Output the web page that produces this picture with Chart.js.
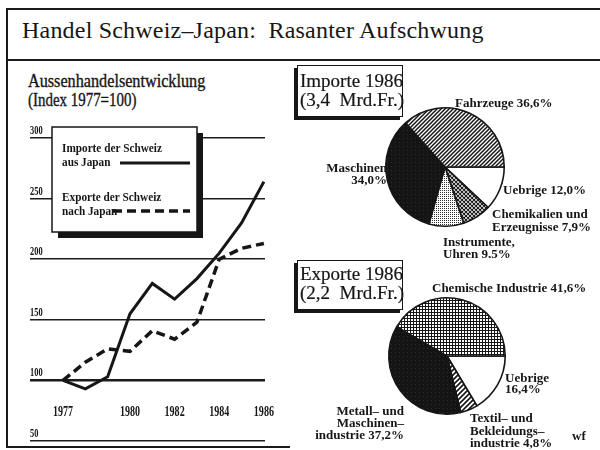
<!DOCTYPE html>
<html>
<head>
<meta charset="utf-8">
<script src="https://cdn.jsdelivr.net/npm/chart.js@4.4.1/dist/chart.umd.min.js"></script>
<style>
  html,body{margin:0;padding:0;background:#fff;}
  body{width:600px;height:450px;position:relative;overflow:hidden;font-family:"Liberation Serif",serif;color:#161616;}
  .abs{position:absolute;white-space:nowrap;}
  .line{position:absolute;background:#1a1a1a;}
  .head{font-size:18px;line-height:18px;transform-origin:0 0;-webkit-text-stroke:0.35px #161616;}
  .box{position:absolute;border:1.5px solid #161616;box-shadow:-3px 3px 0 #161616;background:#fff;box-sizing:border-box;}
  .boxtxt{position:absolute;left:2px;font-size:19px;line-height:19px;white-space:nowrap;transform-origin:0 0;-webkit-text-stroke:0.2px #161616;}
  canvas{position:absolute;}
</style>
</head>
<body>
<!-- frame -->
<div class="line" style="left:6px;top:8px;width:594px;height:2px;"></div>
<div class="line" style="left:6px;top:59px;width:594px;height:2px;"></div>
<div class="line" style="left:6px;top:8px;width:1.5px;height:440px;"></div>
<div class="line" style="left:6px;top:446px;width:284px;height:2px;"></div>

<div class="abs" id="title" style="left:22px;top:18px;font-size:24px;line-height:24px;letter-spacing:0.2px;">Handel Schweiz–Japan:&nbsp; Rasanter Aufschwung</div>

<div class="abs head" style="left:28px;top:72px;transform:scaleX(0.9);">Aussenhandelsentwicklung</div>
<div class="abs head" style="left:28px;top:91px;transform:scaleX(0.83);">(Index 1977=100)</div>

<canvas id="lineChart" width="290" height="330" style="left:0;top:120px;"></canvas>
<canvas id="pieImp" width="310" height="198" style="left:290px;top:60px;"></canvas>
<canvas id="pieExp" width="310" height="192" style="left:290px;top:258px;"></canvas>

<div class="box" style="left:297px;top:65px;width:106px;height:52px;">
  <div class="boxtxt" style="top:5px;">Importe 1986</div>
  <div class="boxtxt" style="top:24px;">(3,4&nbsp; Mrd.Fr.)</div>
</div>
<div class="box" style="left:297px;top:260px;width:106px;height:50px;">
  <div class="boxtxt" style="top:3px;">Exporte 1986</div>
  <div class="boxtxt" style="top:22px;">(2,2&nbsp; Mrd.Fr.)</div>
</div>

<div class="abs" style="left:572px;top:429px;font-size:13px;font-weight:bold;line-height:13px;">wf</div>

<script>
// ---------------- DATA ----------------
const years = [1977, 1978, 1979, 1980, 1981, 1982, 1983, 1984, 1985, 1986];
const importIndex = [100, 93, 103, 155, 180, 167, 184, 205, 230, 264];
const exportIndex = [100, 115, 126, 124, 141, 134, 148, 200, 209, 213];
const seriesNames = [["Importe der Schweiz", "aus Japan"], ["Exporte der Schweiz", "nach Japan"]];
const xTickYears = [1977, 1980, 1982, 1984, 1986];
const yTickValues = [300, 250, 200, 150, 100, 50];

// pie slices listed clockwise starting at 3 o'clock
const importCategories = ["Uebrige", ["Chemikalien und", "Erzeugnisse"], ["Instrumente,", "Uhren"], "Maschinen", "Fahrzeuge"];
const importShares = [12.0, 7.9, 9.5, 34.0, 36.6];
const exportCategories = ["Uebrige", ["Textil– und", "Bekleidungs–", "industrie"], ["Metall– und", "Maschinen–", "industrie"], "Chemische Industrie"];
const exportShares = [16.4, 4.8, 37.2, 41.6];

// ---------------- helpers ----------------
const INK = '#161616';
function drawScaled(ctx, text, x, y, font, sx, align) {
  ctx.save();
  ctx.font = font;
  ctx.fillStyle = INK;
  ctx.textAlign = align;
  ctx.textBaseline = 'alphabetic';
  ctx.translate(x, y);
  ctx.scale(sx, 1);
  ctx.fillText(text, 0, 0);
  ctx.restore();
}
function fmtPct(v) { return v.toFixed(1).replace('.', ',') + '%'; }

function makePattern(kind) {
  const c = document.createElement('canvas');
  const g = c.getContext('2d');
  let s = 4;
  if (kind === 'diag') {
    s = 4; c.width = c.height = s;
    g.fillStyle = '#fff'; g.fillRect(0, 0, s, s);
    g.strokeStyle = INK; g.lineWidth = 1.5;
    g.beginPath();
    g.moveTo(-1, s + 1); g.lineTo(s + 1, -1);
    g.moveTo(-1, 1); g.lineTo(1, -1);
    g.moveTo(s - 1, s + 1); g.lineTo(s + 1, s - 1);
    g.stroke();
  } else if (kind === 'diagWide') {
    s = 5; c.width = c.height = s;
    g.fillStyle = '#fff'; g.fillRect(0, 0, s, s);
    g.strokeStyle = INK; g.lineWidth = 1.6;
    g.beginPath();
    g.moveTo(-1, s + 1); g.lineTo(s + 1, -1);
    g.moveTo(-1, 1); g.lineTo(1, -1);
    g.moveTo(s - 1, s + 1); g.lineTo(s + 1, s - 1);
    g.stroke();
  } else if (kind === 'cross') {
    s = 4; c.width = c.height = s;
    g.fillStyle = '#fff'; g.fillRect(0, 0, s, s);
    g.strokeStyle = INK; g.lineWidth = 1.1;
    g.beginPath();
    g.moveTo(-1, s + 1); g.lineTo(s + 1, -1);
    g.moveTo(-1, -1); g.lineTo(s + 1, s + 1);
    g.moveTo(-1, 1); g.lineTo(1, -1);
    g.moveTo(s - 1, s + 1); g.lineTo(s + 1, s - 1);
    g.moveTo(s - 1, -1); g.lineTo(s + 1, 1);
    g.moveTo(-1, s - 1); g.lineTo(1, s + 1);
    g.stroke();
  } else if (kind === 'grid') {
    s = 3; c.width = c.height = s;
    g.fillStyle = '#fff'; g.fillRect(0, 0, s, s);
    g.fillStyle = INK;
    g.fillRect(0, 0, s, 1); g.fillRect(0, 0, 1, s);
  } else if (kind === 'dots') {
    s = 2; c.width = c.height = s;
    g.fillStyle = '#fff'; g.fillRect(0, 0, s, s);
    g.fillStyle = '#333';
    g.fillRect(0, 0, 1, 1);
  } else if (kind === 'black') {
    s = 4; c.width = c.height = s;
    g.fillStyle = '#141414'; g.fillRect(0, 0, s, s);
    g.fillStyle = '#2e2e2e'; g.fillRect(1, 2, 1, 1);
  }
  return g.createPattern(c, 'repeat');
}

// ---------------- line chart ----------------
const lineDecor = {
  id: 'lineDecor',
  afterDraw(chart) {
    const ctx = chart.ctx;
    const xs = chart.scales.x, ys = chart.scales.y, area = chart.chartArea;
    yTickValues.forEach(v => {
      drawScaled(ctx, String(v), area.left, ys.getPixelForValue(v) - 4, 'bold 12px "Liberation Serif"', 0.7, 'left');
    });
    xTickYears.forEach(yr => {
      drawScaled(ctx, String(yr), xs.getPixelForValue(yr), 296, 'bold 14px "Liberation Serif"', 0.72, 'center');
    });
    // legend box
    const bx = 52, by = 7, bw = 145, bh = 105;
    ctx.save();
    ctx.fillStyle = INK; ctx.fillRect(bx + 6, by + 6, bw, bh);
    ctx.fillStyle = '#fff'; ctx.fillRect(bx, by, bw, bh);
    ctx.strokeStyle = INK; ctx.lineWidth = 1.5; ctx.strokeRect(bx, by, bw, bh);
    ctx.restore();
    const items = [
      { y: 32, sample: { x0: 120, x1: 190, y: 43 } },
      { y: 81, sample: { x0: 113, x1: 190, y: 91 } }
    ];
    chart.data.datasets.forEach((ds, i) => {
      const it = items[i];
      seriesNames[i].forEach((t, j) => {
        drawScaled(ctx, t, 62, it.y + j * 14, 'bold 12.5px "Liberation Serif"', 0.9, 'left');
      });
      ctx.save();
      ctx.strokeStyle = ds.borderColor;
      ctx.lineWidth = ds.borderWidth;
      ctx.setLineDash(ds.borderDash || []);
      ctx.beginPath();
      ctx.moveTo(it.sample.x0, it.sample.y);
      ctx.lineTo(it.sample.x1, it.sample.y);
      ctx.stroke();
      ctx.restore();
    });
  }
};

new Chart(document.getElementById('lineChart'), {
  type: 'line',
  data: {
    datasets: [
      { label: seriesNames[0].join(' '), data: years.map((y, i) => ({ x: y, y: importIndex[i] })),
        borderColor: INK, borderWidth: 3, pointRadius: 0, tension: 0, borderJoinStyle: 'miter' },
      { label: seriesNames[1].join(' '), data: years.map((y, i) => ({ x: y, y: exportIndex[i] })),
        borderColor: INK, borderWidth: 3.5, borderDash: [9, 5], pointRadius: 0, tension: 0 }
    ]
  },
  options: {
    responsive: false, animation: false, devicePixelRatio: 1,
    layout: { padding: { left: 30, right: 25, top: 18, bottom: 9 } },
    plugins: { legend: { display: false }, tooltip: { enabled: false } },
    scales: {
      x: { type: 'linear', display: false, min: 1975.52, max: 1986.05 },
      y: { type: 'linear', min: 50, max: 300,
        ticks: { display: false, stepSize: 50 },
        border: { display: false },
        grid: { drawTicks: false, color: '#1c1c1c', lineWidth: c => (c.tick && c.tick.value === 100 ? 2.6 : 1.5) },
        afterFit: s => { s.width = 0; }
      }
    }
  },
  plugins: [lineDecor]
});

// ---------------- pies ----------------
function pieLabels(layout) {
  return {
    id: 'pieLabels',
    afterDraw(chart) {
      const ctx = chart.ctx;
      const vals = chart.data.datasets[0].data;
      chart.data.labels.forEach((lab, i) => {
        const L = layout[i];
        const lines = Array.isArray(lab) ? lab.slice() : [lab];
        const pct = fmtPct(vals[i]);
        if (L.pctLine) lines.push(pct); else lines[lines.length - 1] += ' ' + pct;
        lines.forEach((t, j) => drawScaled(ctx, t, L.x, L.y + j * L.lh, 'bold 13px "Liberation Serif"', 1.0, L.align));
      });
    }
  };
}

const importLayout = [
  { x: 213, y: 134, align: 'left', lh: 12 },
  { x: 202, y: 158, align: 'left', lh: 13 },
  { x: 153, y: 186, align: 'left', lh: 11.5 },
  { x: 97, y: 112, align: 'right', lh: 12, pctLine: true },
  { x: 165, y: 47, align: 'left', lh: 12 }
];
const exportLayout = [
  { x: 215, y: 124, align: 'left', lh: 11, pctLine: true },
  { x: 180, y: 164, align: 'left', lh: 12.5 },
  { x: 114, y: 157, align: 'right', lh: 12 },
  { x: 142, y: 34, align: 'left', lh: 12 }
];

function pie(id, labels, values, fills, pad, layout) {
  new Chart(document.getElementById(id), {
    type: 'pie',
    data: { labels: labels, datasets: [{ data: values, backgroundColor: fills, borderColor: INK, borderWidth: 1.6 }] },
    options: {
      responsive: false, animation: false, devicePixelRatio: 1,
      rotation: 90,
      layout: { padding: pad },
      plugins: { legend: { display: false }, tooltip: { enabled: false } }
    },
    plugins: [pieLabels(layout)]
  });
}

pie('pieImp', importCategories, importShares,
  ['#ffffff', makePattern('cross'), makePattern('dots'), makePattern('black'), makePattern('diag')],
  { left: 95, right: 95, top: 47, bottom: 31 }, importLayout);
pie('pieExp', exportCategories, exportShares,
  ['#ffffff', makePattern('diagWide'), makePattern('black'), makePattern('grid')],
  { left: 98, right: 94, top: 39, bottom: 35 }, exportLayout);
</script>
</body>
</html>
